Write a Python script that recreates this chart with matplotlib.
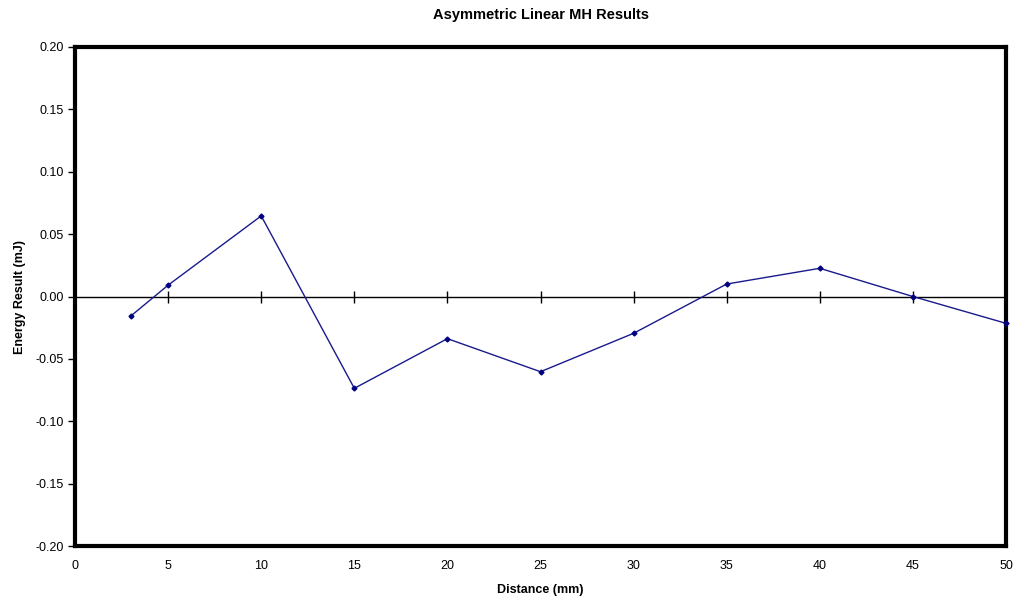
import numpy as np
import matplotlib
matplotlib.use('Agg')
import matplotlib.pyplot as plt

plt.rcParams['font.family'] = ['Liberation Sans', 'DejaVu Sans']

# distance (mm) and energy result (mJ)
distance = [3, 5, 10, 15, 20, 25, 30, 35, 40, 45, 50]
energy   = [-0.0156, 0.0091, 0.0646, -0.0736, -0.0338, -0.0603, -0.0295, 0.0100, 0.0226, 0.0, -0.0215]

x_ticks = np.arange(0, 51, 5)
y_ticks = np.round(np.arange(-0.20, 0.201, 0.05), 2)

fig = plt.figure(figsize=(10.18, 6.01), dpi=100)
ax = fig.add_axes([0.0737, 0.0915, 0.9145, 0.8303])

# zero line with the x axis crossing there (excel style)
ax.axhline(0, color='black', linewidth=1, zorder=2)
sec = ax.secondary_xaxis(0.5)
sec.set_xticks(x_ticks)
sec.tick_params(axis='x', direction='inout', length=9, width=1, labelbottom=False, labeltop=False)
for s in sec.spines.values():
    s.set_visible(False)

ax.plot(distance, energy, color='#1a1a8c', linewidth=1, marker='D', markersize=2.5,
        markerfacecolor='#000080', markeredgecolor='#000080', clip_on=False, zorder=3)

ax.set_xlim(0, 50)
ax.set_ylim(-0.20, 0.20)
ax.set_xticks(x_ticks)
ax.set_yticks(y_ticks)
ax.set_yticklabels([f'{abs(v):.2f}' if v == 0 else f'{v:.2f}' for v in y_ticks])
ax.tick_params(axis='x', length=0, pad=10, labelsize=9)
ax.tick_params(axis='y', length=5, width=1, direction='out', pad=3, labelsize=9)

for s in ax.spines.values():
    s.set_linewidth(3)
    s.set_color('black')

ax.set_title('Asymmetric Linear MH Results', fontsize=10.5, fontweight='bold', pad=20)
ax.set_xlabel('Distance (mm)', fontsize=9, fontweight='bold', labelpad=9)
ax.set_ylabel('Energy Result (mJ)', fontsize=9, fontweight='bold', labelpad=7)

plt.savefig('out.png', dpi=100)
